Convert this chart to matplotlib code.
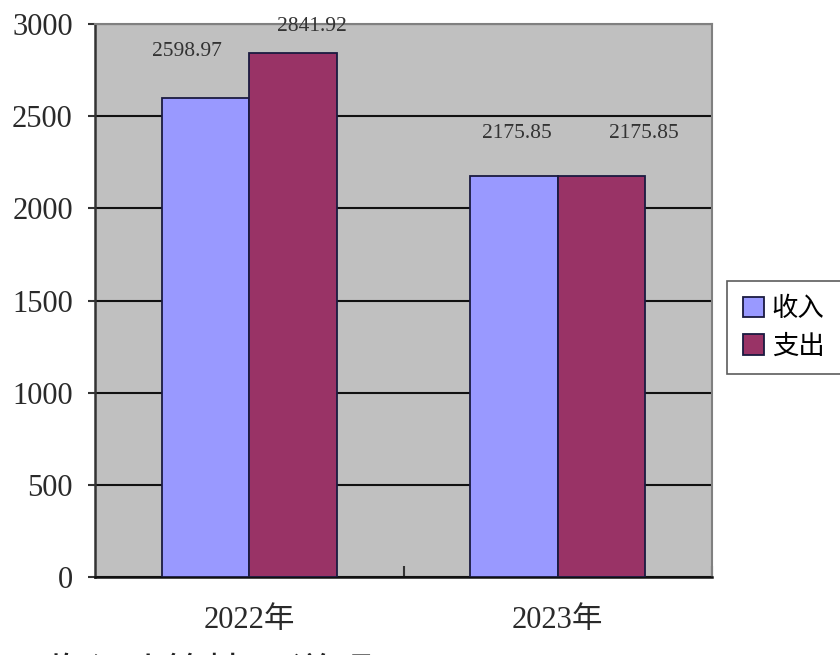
import matplotlib
matplotlib.use("Agg")
import matplotlib.pyplot as plt
import numpy as np

plt.rcParams['font.family'] = ['Liberation Serif', 'Noto Sans CJK SC', 'DejaVu Sans']

# 数据
years = ['2022年', '2023年']
income = [2598.97, 2175.85]
expense = [2841.92, 2175.85]
series_names = ['收入', '支出']
yticks = [0, 500, 1000, 1500, 2000, 2500, 3000]

# 标签偏移 (像素)
income_offsets = [(-19, 46), (3, 42)]
expense_offsets = [(19, 27), (42, 42)]

fig = plt.figure(figsize=(8.4, 6.55), dpi=100)
ax = fig.add_axes([95 / 840, 78 / 655, 617 / 840, 553 / 655])
ax.set_facecolor('#C0C0C0')

x = np.arange(len(years))
w = 0.284
b1 = ax.bar(x - w / 2, income, w, color='#9999FF', edgecolor='#1a1a40', linewidth=1.3, label=series_names[0], zorder=3)
b2 = ax.bar(x + w / 2, expense, w, color='#993366', edgecolor='#1a1a40', linewidth=1.3, label=series_names[1], zorder=3)

for rect, v, off in zip(b1, income, income_offsets):
    ax.annotate(f'{v:.2f}', (rect.get_x() + rect.get_width() / 2, v), xytext=off,
                textcoords='offset pixels', ha='center', va='center', fontsize=15.5, color='#333333')
for rect, v, off in zip(b2, expense, expense_offsets):
    ax.annotate(f'{v:.2f}', (rect.get_x() + rect.get_width() / 2, v), xytext=off,
                textcoords='offset pixels', ha='center', va='center', fontsize=15.5, color='#333333')

ax.set_xlim(-0.5, 1.5)
ax.set_ylim(0, 3000)
ax.set_yticks(yticks)
ax.set_yticklabels([str(t) for t in yticks], fontsize=22, color='#2a2a2a')
ax.yaxis.grid(True, color='#111111', linewidth=1.5, zorder=1)
ax.set_axisbelow(True)
ax.tick_params(axis='y', direction='out', length=5, width=1.5, pad=11, color='#333333')

ax.set_xticks(x)
ax.set_xticklabels(years, fontsize=22, color='#2a2a2a')
ax.tick_params(axis='x', length=0, pad=21)
ax.set_xticks([0.5, 1.5], minor=True)
ax.tick_params(axis='x', which='minor', direction='in', length=8, width=1.5, color='#333333')

for side in ['top', 'right']:
    ax.spines[side].set_color('#808080')
    ax.spines[side].set_linewidth(1.5)
ax.spines['left'].set_color('#333333')
ax.spines['bottom'].set_color('#111111')
ax.spines['left'].set_linewidth(1.8)
ax.spines['bottom'].set_linewidth(1.8)

leg = fig.legend(handles=[b1, b2], loc='upper left', mode='expand',
                 bbox_to_anchor=(727 / 840, 374 / 655, 140 / 840, 0),
                 fontsize=19, frameon=True, fancybox=False, handlelength=0.8, handleheight=0.8,
                 handletextpad=0.3, borderpad=0.6, labelspacing=0.5, borderaxespad=0)
leg.get_frame().set_edgecolor('#333333')
leg.get_frame().set_linewidth(1.2)

fig.text(40 / 840, -3 / 655, '收入决算情况说明', fontsize=30, va='top', ha='left', color='#222222')

fig.savefig('out.png', dpi=100)
